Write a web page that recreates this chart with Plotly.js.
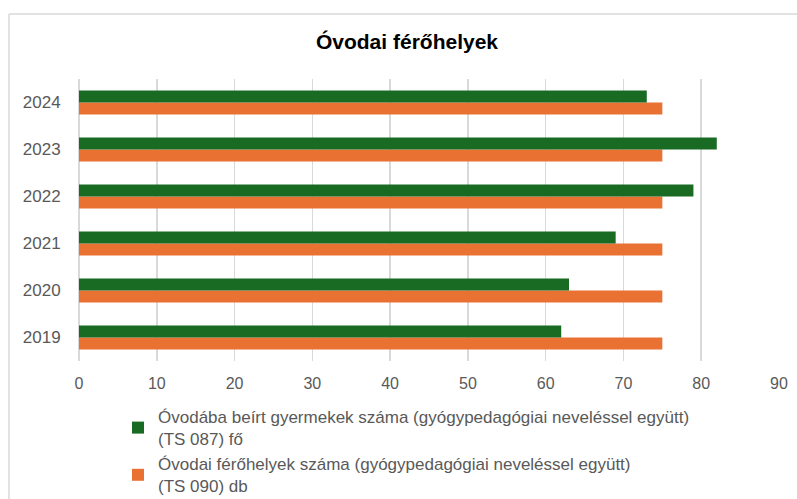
<!DOCTYPE html>
<html>
<head>
<meta charset="utf-8">
<script src="https://cdn.plot.ly/plotly-3.0.1.min.js"></script>
<style>
html,body{margin:0;padding:0;background:#fff;}
#chart{width:797px;height:499px;}
</style>
</head>
<body>
<div id="chart"></div>
<script>
const years = ['2019', '2020', '2021', '2022', '2023', '2024'];
const enrolled = [62, 63, 69, 79, 82, 73];
const places = [75, 75, 75, 75, 75, 75];
const enrolledName = 'Óvodába beírt gyermekek száma (gyógypedagógiai neveléssel együtt)<br>(TS 087) fő';
const placesName = 'Óvodai férőhelyek száma (gyógypedagógiai neveléssel együtt)<br>(TS 090) db';
const xTicks = [0, 10, 20, 30, 40, 50, 60, 70, 80, 90];

const FONT = 'Liberation Sans, Arial, sans-serif';

const traces = [
  {type: 'bar', orientation: 'h', y: years, x: places, name: placesName,
   marker: {color: '#E97132'}, hoverinfo: 'x'},
  {type: 'bar', orientation: 'h', y: years, x: enrolled, name: enrolledName,
   marker: {color: '#196B24'}, hoverinfo: 'x'}
];

const L = 79, R = 779, T = 79, B = 361;
const W = R - L, H = B - T;
function px(x) { return (x - L) / W; }
function py(y) { return (B - y) / H; }

const layout = {
  width: 797, height: 499,
  margin: {l: L, r: 797 - R, t: T, b: 499 - B, autoexpand: false},
  paper_bgcolor: '#fff', plot_bgcolor: '#fff',
  font: {family: FONT, color: '#595959', size: 16},
  title: {text: '<b>Óvodai férőhelyek</b>', font: {family: FONT, size: 21, color: '#000'},
          x: 407 / 797, xanchor: 'center', y: 1 - 42 / 499, yanchor: 'middle'},
  barmode: 'group', bargap: 0.49, bargroupgap: 0,
  xaxis: {range: [0, 90], tickvals: xTicks, ticktext: xTicks.map(String),
          showgrid: true, gridcolor: '#d9d9d9', gridwidth: 1.5,
          zeroline: true, zerolinecolor: '#d9d9d9', zerolinewidth: 1.5,
          showline: false, ticks: 'outside', ticklen: 8, tickcolor: 'rgba(0,0,0,0)',
          tickfont: {family: FONT, size: 16, color: '#595959'}, fixedrange: true},
  yaxis: {type: 'category', categoryorder: 'array', categoryarray: years,
          showgrid: false, showline: false, zeroline: false,
          ticks: 'outside', ticklen: 14, tickcolor: 'rgba(0,0,0,0)',
          tickfont: {family: FONT, size: 17, color: '#595959'}, fixedrange: true},
  showlegend: true,
  legend: {traceorder: 'reversed', orientation: 'v',
           x: px(118), xanchor: 'left', y: py(399), yanchor: 'top',
           font: {family: FONT, size: 17, color: '#595959'},
           bgcolor: 'rgba(0,0,0,0)', tracegroupgap: 1, itemclick: false},
  shapes: [
    {type: 'line', xref: 'paper', yref: 'paper', x0: px(9), x1: px(9), y0: py(14), y1: py(510),
     line: {color: '#d9d9d9', width: 1.5}},
    {type: 'line', xref: 'paper', yref: 'paper', x0: px(9), x1: px(810), y0: py(14), y1: py(14),
     line: {color: '#d9d9d9', width: 1.5}}
  ]
};

Plotly.newPlot('chart', traces, layout, {displayModeBar: false, staticPlot: true});
</script>
</body>
</html>
